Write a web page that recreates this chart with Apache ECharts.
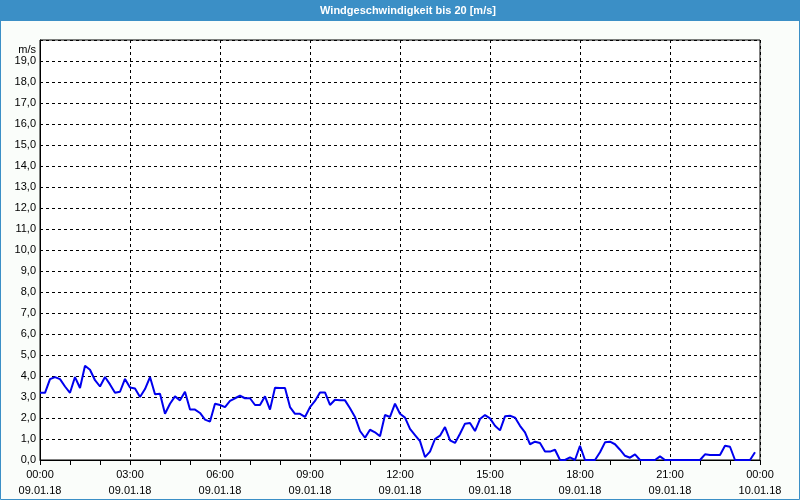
<!DOCTYPE html>
<html>
<head>
<meta charset="utf-8">
<script src="https://cdn.jsdelivr.net/npm/echarts@6/dist/echarts.min.js"></script>
<style>
html,body{margin:0;padding:0;background:#fafdfa;}
#c{width:800px;height:500px;}
</style>
</head>
<body>
<div id="c"></div>
<script>
// Data: wind speed every 10 minutes from 09.01.18 00:00 to 23:50
const titleText = 'Windgeschwindigkeit bis 20 [m/s]';
const unitLabel = 'm/s';
const stepMinutes = 10;
const windSpeed = [
  3.2, 3.2, 3.85, 3.95, 3.85, 3.5, 3.2, 3.95, 3.43, 4.49,
  4.3, 3.8, 3.5, 3.95, 3.6, 3.2, 3.25, 3.86, 3.45, 3.4,
  3.0, 3.38, 3.95, 3.13, 3.16, 2.2, 2.68, 3.03, 2.84, 3.25,
  2.4, 2.4, 2.24, 1.92, 1.83, 2.68, 2.62, 2.52, 2.81, 2.94,
  3.06, 2.94, 2.94, 2.62, 2.62, 3.03, 2.4, 3.44, 3.43, 3.43,
  2.52, 2.2, 2.2, 2.05, 2.52, 2.81, 3.22, 3.22, 2.62, 2.87,
  2.84, 2.84, 2.46, 2.05, 1.38, 1.06, 1.44, 1.32, 1.13, 2.14,
  2.05, 2.68, 2.2, 2.02, 1.48, 1.19, 0.9, 0.14, 0.4, 1.0,
  1.16, 1.57, 0.94, 0.81, 1.25, 1.73, 1.76, 1.38, 1.95, 2.14,
  1.98, 1.63, 1.41, 2.08, 2.11, 2.02, 1.63, 1.32, 0.75, 0.87,
  0.81, 0.4, 0.4, 0.49, 0, 0, 0.12, 0, 0.68, 0,
  0, 0, 0.37, 0.84, 0.87, 0.75, 0.49, 0.2, 0.11, 0.27,
  0, 0, 0, 0, 0.17, 0, 0, 0, 0, 0,
  0, 0, 0, 0.27, 0.24, 0.24, 0.24, 0.68, 0.63, 0,
  0, 0, 0, 0.37
];
const xTickHours = [0, 3, 6, 9, 12, 15, 18, 21, 24];
const xTickLabels = [
  '00:00\n09.01.18', '03:00\n09.01.18', '06:00\n09.01.18', '09:00\n09.01.18',
  '12:00\n09.01.18', '15:00\n09.01.18', '18:00\n09.01.18', '21:00\n09.01.18',
  '00:00\n10.01.18'
];

const seriesData = windSpeed.map((v, i) => [i * stepMinutes / 60, v]);
const font = '"Liberation Sans", Arial, sans-serif';

const chart = echarts.init(document.getElementById('c'), null, {renderer: 'canvas'});
chart.setOption({
  backgroundColor: '#fafdfa',
  animation: false,
  graphic: [
    {type: 'rect', z: -10, shape: {x: 0, y: 0, width: 800, height: 21}, style: {fill: '#3b8fc6'}},
    {type: 'text', z: 10, x: 408, y: 11, style: {text: titleText, fill: '#ffffff', font: 'bold 11px "Liberation Sans", Arial, sans-serif', align: 'center', verticalAlign: 'middle'}},
    {type: 'rect', z: 100, silent: true, shape: {x: 0.5, y: 0.5, width: 799, height: 499}, style: {fill: null, stroke: '#3b8fc6', lineWidth: 1}}
  ],
  grid: {
    left: 40, right: 40, top: 40, bottom: 40,
    show: true, backgroundColor: '#ffffff', borderColor: '#000000', borderWidth: 1
  },
  xAxis: {
    type: 'value',
    min: 0, max: 24, interval: 3,
    axisLine: {show: true, lineStyle: {color: '#000', width: 1}},
    axisTick: {show: true, length: 5, lineStyle: {color: '#000'}},
    minorTick: {show: true, splitNumber: 3, length: 5, lineStyle: {color: '#000'}},
    splitLine: {show: true, lineStyle: {color: '#000', type: [3, 3], width: 1}},
    axisLabel: {
      color: '#000', fontSize: 11, fontFamily: font, margin: 7, lineHeight: 16,
      formatter: function (v) {
        const idx = xTickHours.indexOf(v);
        return idx >= 0 ? xTickLabels[idx] : '';
      }
    }
  },
  yAxis: {
    type: 'value',
    min: 0, max: 20, interval: 1,
    name: unitLabel,
    nameLocation: 'end',
    nameGap: -12,
    nameTextStyle: {color: '#000', fontSize: 11, fontFamily: font, align: 'right', verticalAlign: 'middle', padding: [0, 4, 0, 0]},
    axisLine: {show: true, lineStyle: {color: '#000'}},
    axisTick: {show: false},
    splitLine: {show: true, lineStyle: {color: '#000', type: [3, 3], width: 1}},
    axisLabel: {
      color: '#000', fontSize: 11, fontFamily: font, margin: 4,
      formatter: function (v) {
        if (v >= 20) return '';
        return v.toFixed(1).replace('.', ',');
      }
    }
  },
  series: [{
    type: 'line',
    data: seriesData,
    showSymbol: false,
    symbol: 'none',
    lineStyle: {color: '#0000ee', width: 2},
    z: 5
  }]
});
</script>
</body>
</html>
